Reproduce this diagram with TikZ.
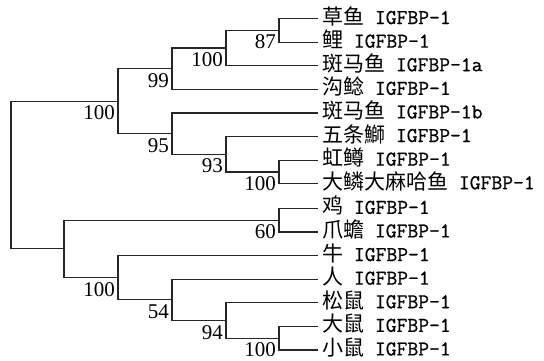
\documentclass[tikz,border=0pt]{standalone}
\usepackage{fontspec}
\newfontfamily\cjk{Noto Sans CJK SC}
\newfontfamily\monof[FakeBold=0.8]{Latin Modern Mono}
\newfontfamily\numf{Liberation Serif}
\begin{document}
\begin{tikzpicture}[x=1pt,y=-1pt,
  br/.style={line width=1.2pt, line cap=rect, draw=black!85},
  leaf/.style={anchor=west, inner xsep=5pt, inner ysep=0pt, text height=15pt, text depth=4pt, font=\fontsize{21}{24}\selectfont},
  bs/.style={anchor=north east, inner sep=0pt, font=\numf\fontsize{21}{24}\selectfont}]
\useasboundingbox (0,0) rectangle (544,360);
% leaves
\def\lx{317}
\node[leaf] (l1) at (\lx,18.5) {{\cjk 草鱼}\monof\ IGFBP-1};
\node[leaf] (l2) at (\lx,42.1) {{\cjk 鲤}\monof\ IGFBP-1};
\node[leaf] (l3) at (\lx,65.7) {{\cjk 斑马鱼}\monof\ IGFBP-1a};
\node[leaf] (l4) at (\lx,89.3) {{\cjk 沟鲶}\monof\ IGFBP-1};
\node[leaf] (l5) at (\lx,112.9) {{\cjk 斑马鱼}\monof\ IGFBP-1b};
\node[leaf] (l6) at (\lx,136.5) {{\cjk 五条鰤}\monof\ IGFBP-1};
\node[leaf] (l7) at (\lx,160.1) {{\cjk 虹鳟}\monof\ IGFBP-1};
\node[leaf] (l8) at (\lx,183.7) {{\cjk 大鳞大麻哈鱼}\monof\ IGFBP-1};
\node[leaf] (l9) at (\lx,208.3) {{\cjk 鸡}\monof\ IGFBP-1};
\node[leaf] (l10) at (\lx,231.9) {{\cjk 爪蟾}\monof\ IGFBP-1};
\node[leaf] (l11) at (\lx,255.5) {{\cjk 牛}\monof\ IGFBP-1};
\node[leaf] (l12) at (\lx,279.1) {{\cjk 人}\monof\ IGFBP-1};
\node[leaf] (l13) at (\lx,302.7) {{\cjk 松鼠}\monof\ IGFBP-1};
\node[leaf] (l14) at (\lx,326.3) {{\cjk 大鼠}\monof\ IGFBP-1};
\node[leaf] (l15) at (\lx,349.9) {{\cjk 小鼠}\monof\ IGFBP-1};
% internal nodes
\coordinate (n87) at (279,{(18.5+42.1)/2});
\coordinate (n100a) at (226,{(30.3+65.7)/2});
\coordinate (n99) at (172,{(48+89.3)/2});
\coordinate (n100c) at (279,{(160.1+183.7)/2});
\coordinate (n93) at (226,{(136.5+171.9)/2});
\coordinate (n95) at (172,{(112.9+154.2)/2});
\coordinate (n100b) at (118,{(68.65+133.55)/2});
\coordinate (n60) at (279,{(208.3+231.9)/2});
\coordinate (n100e) at (279,{(326.3+349.9)/2});
\coordinate (n94) at (226,{(302.7+338.1)/2});
\coordinate (n54) at (172,{(279.1+320.4)/2});
\coordinate (n100d) at (118,{(255.5+299.75)/2});
\coordinate (nlow) at (64,{(220.1+277.6)/2});
\coordinate (root) at (11,{(101.1+248.85)/2});
% branches
\draw[br] (l1.west) -| (n87) |- (l2.west);
\draw[br] (n87) -| (n100a) |- (l3.west);
\draw[br] (n100a) -| (n99) |- (l4.west);
\draw[br] (l7.west) -| (n100c) |- (l8.west);
\draw[br] (l6.west) -| (n93) |- (n100c);
\draw[br] (l5.west) -| (n95) |- (n93);
\draw[br] (n99) -| (n100b) |- (n95);
\draw[br] (l9.west) -| (n60) |- (l10.west);
\draw[br] (l14.west) -| (n100e) |- (l15.west);
\draw[br] (l13.west) -| (n94) |- (n100e);
\draw[br] (l12.west) -| (n54) |- (n94);
\draw[br] (l11.west) -| (n100d) |- (n54);
\draw[br] (n60) -| (nlow) |- (n100d);
\draw[br] (n100b) -| (root) |- (nlow);
% bootstrap labels
\foreach \n/\t in {n87/87, n100a/100, n99/99, n100c/100, n93/93, n95/95, n100b/100, n60/60, n100e/100, n94/94, n54/54, n100d/100}
  \node[bs] (b\n) at ([xshift=-3pt,yshift=-4.5pt]\n) {\t};
\end{tikzpicture}
\end{document}
